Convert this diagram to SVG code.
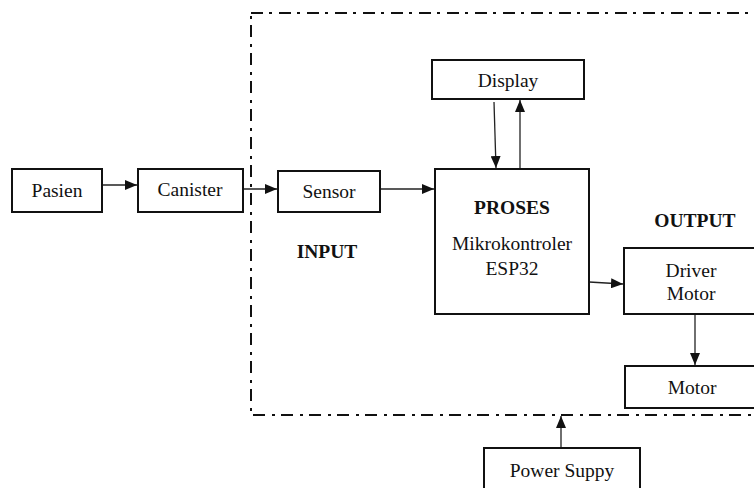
<svg xmlns="http://www.w3.org/2000/svg" width="754" height="488" viewBox="0 0 754 488">
<style>
.box{fill:#fff;stroke:#111;stroke-width:2}
.t{font-family:"Liberation Serif","Times New Roman",serif;font-size:19.5px;fill:#111;text-anchor:middle}
.b{font-weight:bold}
.c{stroke:#222;stroke-width:1.3;fill:none}
.frame{fill:none;stroke:#111;stroke-width:2;stroke-dasharray:12 6 3 7}
</style>
<defs>
<marker id="ah" viewBox="0 0 12 10" refX="12" refY="5" markerWidth="12" markerHeight="10" markerUnits="userSpaceOnUse" orient="auto">
<path d="M0,0 L12,5 L0,10 z" fill="#111"/>
</marker>
</defs>
<rect class="frame" x="251" y="13" width="520" height="402"/>
<g id="connectors">
<line class="c" x1="102" y1="185" x2="137" y2="185" marker-end="url(#ah)"/>
<line class="c" x1="243" y1="189" x2="277" y2="189" marker-end="url(#ah)"/>
<line class="c" x1="380" y1="189" x2="434" y2="189" marker-end="url(#ah)"/>
<line class="c" x1="494" y1="102" x2="496" y2="168" marker-end="url(#ah)"/>
<line class="c" x1="520" y1="169" x2="520" y2="100" marker-end="url(#ah)"/>
<line class="c" x1="589" y1="282" x2="623" y2="284" marker-end="url(#ah)"/>
<line class="c" x1="695" y1="314" x2="695" y2="365" marker-end="url(#ah)"/>
<line class="c" x1="561" y1="448" x2="561" y2="416" marker-end="url(#ah)"/>
</g>
<g id="pasien"><rect class="box" x="12" y="169" width="90" height="43"/><text class="t" x="57" y="197">Pasien</text></g>
<g id="canister"><rect class="box" x="138" y="169" width="105" height="43"/><text class="t" x="190" y="196">Canister</text></g>
<g id="sensor"><rect class="box" x="278" y="171" width="102" height="41"/><text class="t" x="329" y="198">Sensor</text></g>
<g id="input"><text class="t b" x="327" y="258">INPUT</text></g>
<g id="display"><rect class="box" x="432" y="60" width="152" height="39"/><text class="t" x="508" y="87">Display</text></g>
<g id="proses"><rect class="box" x="435" y="169" width="154" height="145"/>
<text class="t b" x="512" y="214">PROSES</text>
<text class="t" x="512" y="250">Mikrokontroler</text>
<text class="t" x="512" y="275">ESP32</text></g>
<g id="output"><text class="t b" x="695" y="227">OUTPUT</text></g>
<g id="driver"><rect class="box" x="624" y="248" width="140" height="66"/>
<text class="t" x="691" y="277">Driver</text>
<text class="t" x="691" y="300">Motor</text></g>
<g id="motor"><rect class="box" x="625" y="366" width="140" height="42"/><text class="t" x="692" y="394">Motor</text></g>
<g id="power"><rect class="box" x="484" y="448" width="156" height="50"/><text class="t" x="562" y="477">Power Suppy</text></g>
</svg>
